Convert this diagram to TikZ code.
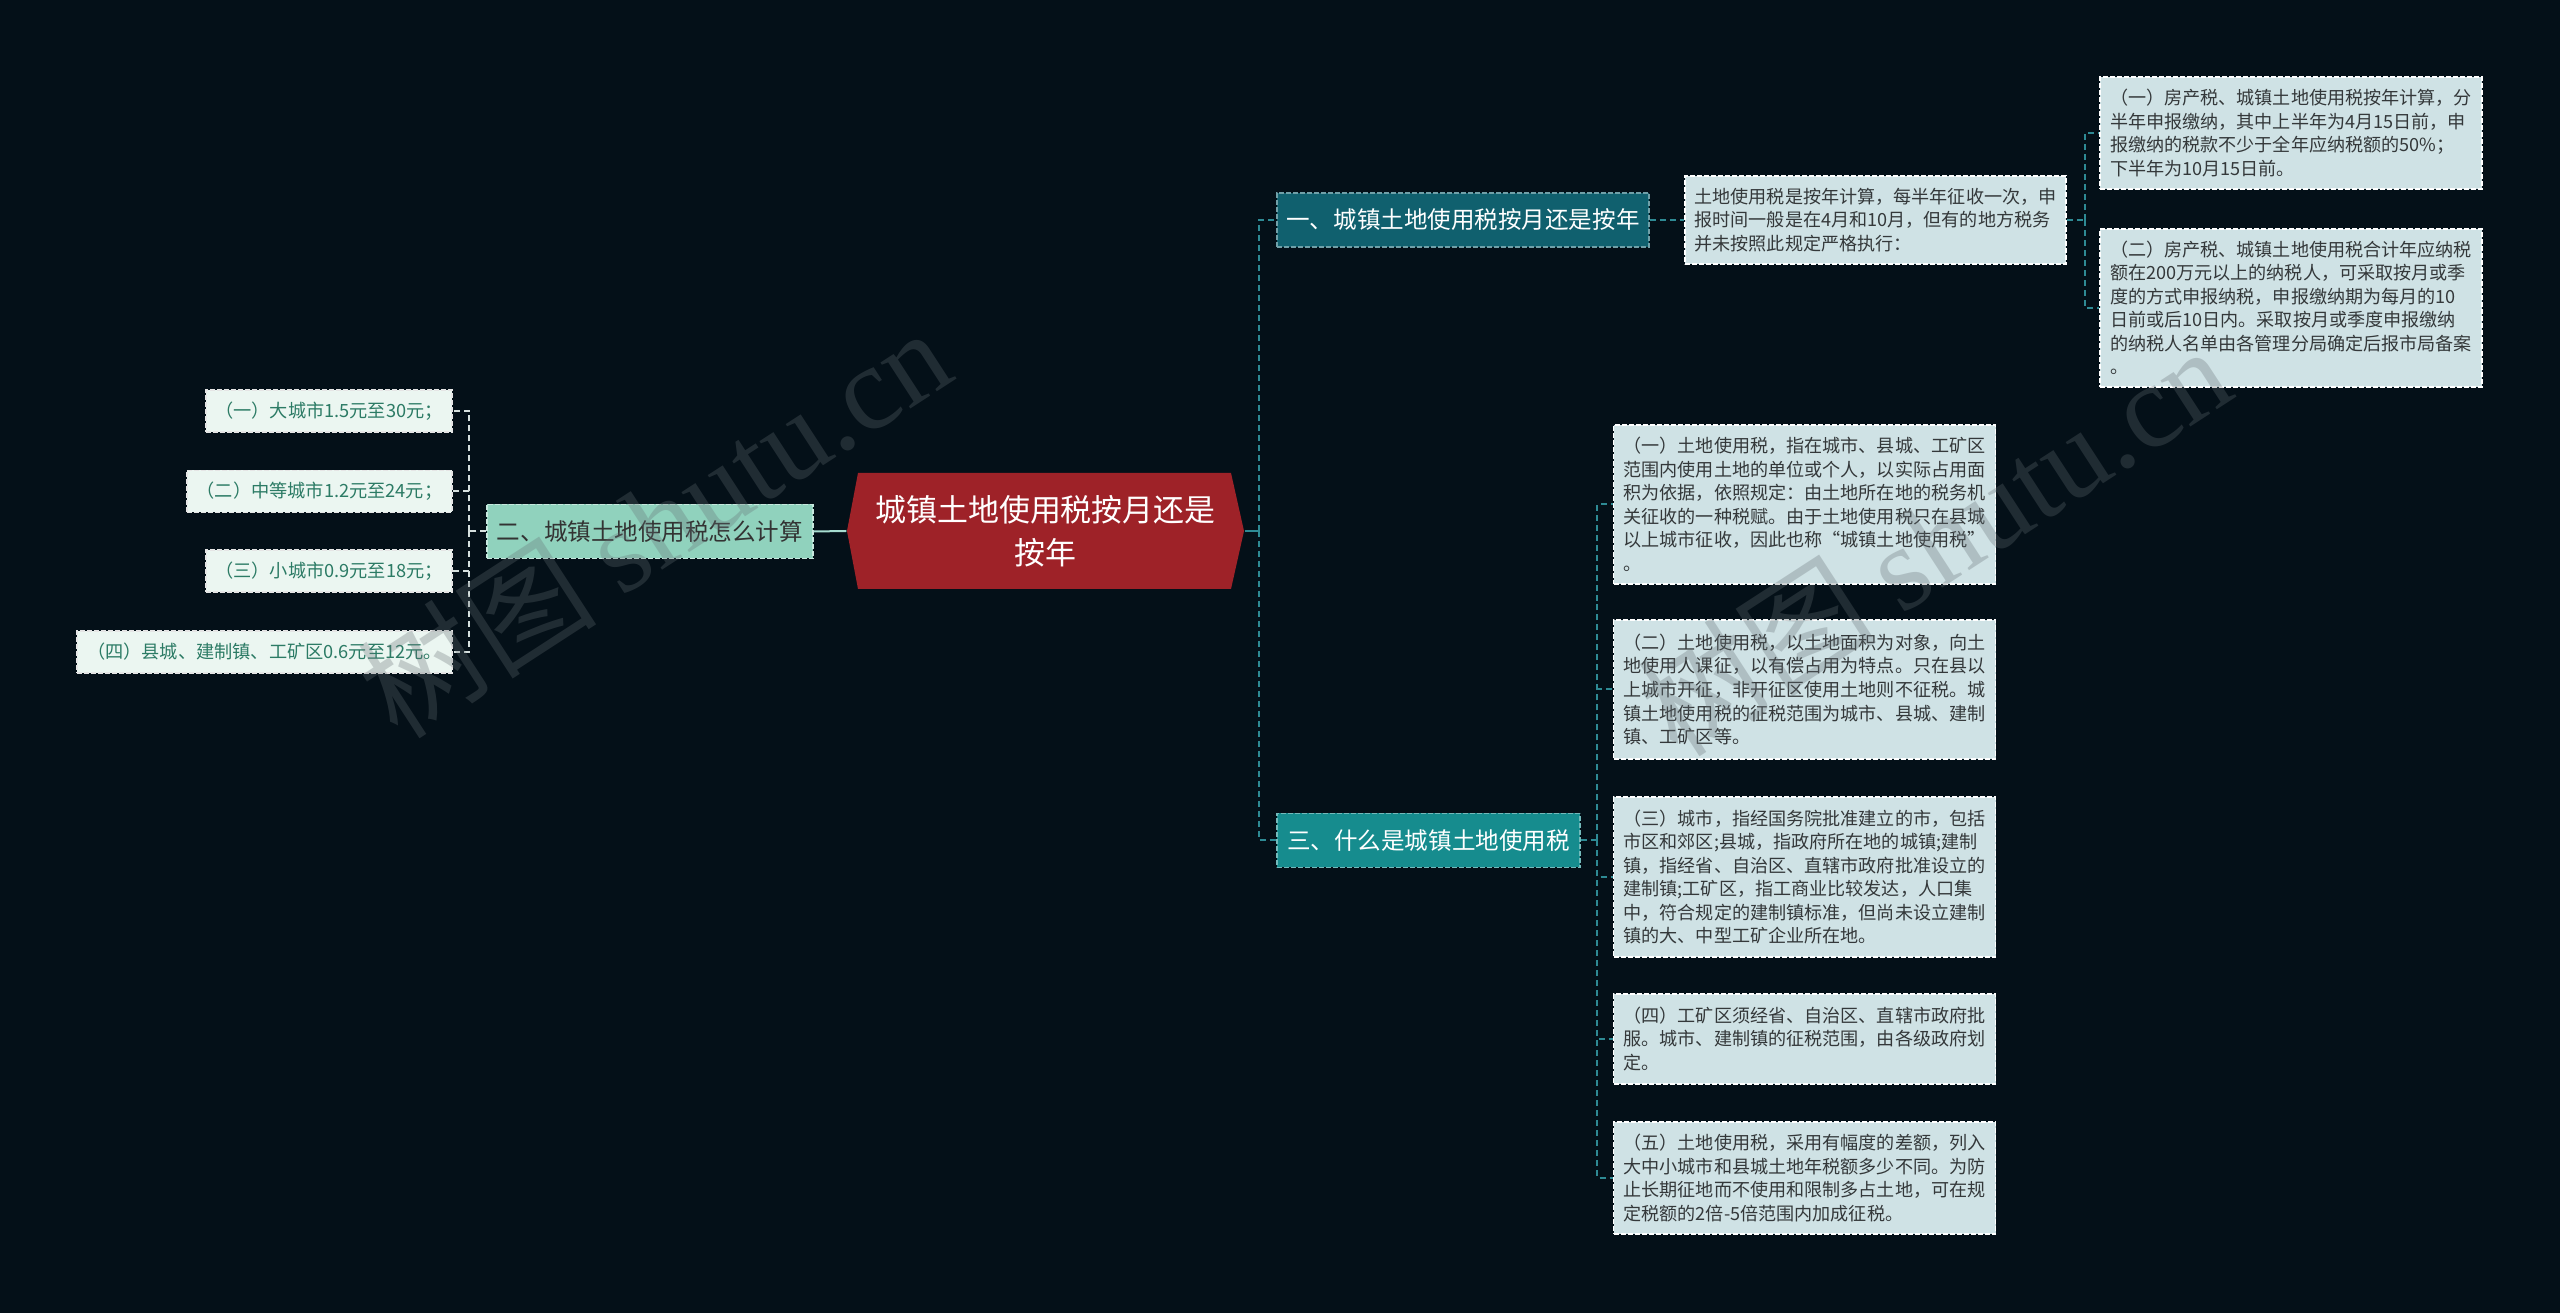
\documentclass[tikz,border=0pt]{standalone}
\usepackage{fontspec}
\setmainfont{Noto Sans CJK SC}
\newfontfamily\wmlatin{Liberation Serif}
\usepackage{tikz}
\usetikzlibrary{calc}
\usepackage{xcolor}

\definecolor{bgcol}{RGB}{4,16,24}
\definecolor{rootred}{RGB}{158,34,40}
\definecolor{onecol}{RGB}{16,96,110}
\definecolor{twocol}{RGB}{144,210,189}
\definecolor{threecol}{RGB}{22,140,142}
\definecolor{notecol}{RGB}{207,226,229}
\definecolor{leafcol}{RGB}{235,246,241}
\definecolor{leaftext}{RGB}{44,123,101}
\definecolor{notetext}{RGB}{52,56,58}
\definecolor{rcol}{RGB}{46,138,148}
\definecolor{lcol}{RGB}{214,224,222}
\definecolor{mintline}{RGB}{166,221,208}
\definecolor{wmcol}{RGB}{100,110,115}

\begin{document}
\begin{tikzpicture}[x=0.1mm, y=-0.1mm,
  root/.style={text=white, align=center, inner sep=0, minimum width=39.7mm,
    minimum height=11.6mm, font=\fontsize{8.8pt}{12.2pt}\selectfont},
  topic/.style={dash pattern=on 0.5mm off 0.2mm, line width=0.15mm, inner sep=0,
    minimum height=5.4mm, font=\fontsize{6.7pt}{8pt}\selectfont},
  note/.style={fill=notecol, draw=white, dash pattern=on 0.5mm off 0.2mm,
    line width=0.15mm, text=notetext, align=left, inner sep=0,
    minimum width=38.2mm, font=\fontsize{5.15pt}{6.69pt}\selectfont},
  leaf/.style={fill=leafcol, draw=white!80!gray, dash pattern=on 0.5mm off 0.2mm,
    line width=0.15mm, text=leaftext, inner sep=0, minimum height=4.2mm,
    font=\fontsize{5.18pt}{6.7pt}\selectfont},
  rline/.style={draw=rcol, line width=0.2mm, dash pattern=on 0.6mm off 0.4mm},
  lline/.style={draw=lcol, line width=0.2mm, dash pattern=on 0.6mm off 0.4mm},
  wmark/.style={text=wmcol, opacity=0.3, inner sep=0, font=\fontsize{34pt}{34pt}\selectfont}
]
\fill[bgcol] (0,0) rectangle (2560,1313);

\fill[rootred] (847,531) -- (858,473) -- (1231,473) -- (1244,531) -- (1231,589) -- (858,589) -- cycle;
\node[root] (root) at (1045.5,531) {城镇土地使用税按月还是\\按年};

\node[topic, fill=onecol, draw=onecol!60!white, text=white, minimum width=37.2mm] (b1) at (1463,220) {一、城镇土地使用税按月还是按年};
\node[topic, fill=twocol, draw=twocol!50!white, text=black!80, minimum width=32.6mm] (b2) at (650,531.5) {二、城镇土地使用税怎么计算};
\node[topic, fill=threecol, draw=threecol!60!white, text=white, minimum width=30.3mm] (b3) at (1428.5,840.5) {三、什么是城镇土地使用税};

\node[note, minimum width=38.1mm, minimum height=8.8mm] (t1) at (1875.5,220) {土地使用税是按年计算，每半年征收一次，申\\报时间一般是在4月和10月，但有的地方税务\\并未按照此规定严格执行：};
\node[note, minimum height=11.2mm] (s1) at (2291,133) {（一）房产税、城镇土地使用税按年计算，分\\半年申报缴纳，其中上半年为4月15日前，申\\报缴纳的税款不少于全年应纳税额的50\%；\\下半年为10月15日前。};
\node[note, minimum height=15.8mm] (s2) at (2291,308) {（二）房产税、城镇土地使用税合计年应纳税\\额在200万元以上的纳税人，可采取按月或季\\度的方式申报纳税，申报缴纳期为每月的10\\日前或后10日内。采取按月或季度申报缴纳\\的纳税人名单由各管理分局确定后报市局备案\\。};

\node[note, minimum height=15.9mm] (r1) at (1804.5,504.5) {（一）土地使用税，指在城市、县城、工矿区\\范围内使用土地的单位或个人，以实际占用面\\积为依据，依照规定：由土地所在地的税务机\\关征收的一种税赋。由于土地使用税只在县城\\以上城市征收，因此也称“城镇土地使用税”\\。};
\node[note, minimum height=13.9mm] (r2) at (1804.5,689.5) {（二）土地使用税，以土地面积为对象，向土\\地使用人课征，以有偿占用为特点。只在县以\\上城市开征，非开征区使用土地则不征税。城\\镇土地使用税的征税范围为城市、县城、建制\\镇、工矿区等。};
\node[note, minimum height=16mm] (r3) at (1804.5,877) {（三）城市，指经国务院批准建立的市，包括\\市区和郊区;县城，指政府所在地的城镇;建制\\镇，指经省、自治区、直辖市政府批准设立的\\建制镇;工矿区，指工商业比较发达，人口集\\中，符合规定的建制镇标准，但尚未设立建制\\镇的大、中型工矿企业所在地。};
\node[note, minimum height=9mm] (r4) at (1804.5,1039) {（四）工矿区须经省、自治区、直辖市政府批\\服。城市、建制镇的征税范围，由各级政府划\\定。};
\node[note, minimum height=11.2mm] (r5) at (1804.5,1178) {（五）土地使用税，采用有幅度的差额，列入\\大中小城市和县城土地年税额多少不同。为防\\止长期征地而不使用和限制多占土地，可在规\\定税额的2倍-5倍范围内加成征税。};

\node[leaf, minimum width=24.6mm] (l1) at (329,411) {（一）大城市1.5元至30元；};
\node[leaf, minimum width=26.5mm] (l2) at (319.5,491.5) {（二）中等城市1.2元至24元；};
\node[leaf, minimum width=24.6mm] (l3) at (329,571) {（三）小城市0.9元至18元；};
\node[leaf, minimum width=37.5mm] (l4) at (264.5,652) {（四）县城、建制镇、工矿区0.6元至12元。};

\coordinate (rj) at (1259,531);
\coordinate (tj) at (2085,220);
\coordinate (bj) at (1597,840.5);
\coordinate (lj) at (469,531.5);

\draw[draw=rcol, line width=0.2mm] (root.east) -- (rj);
\draw[rline] (rj) |- (b1.west);
\draw[rline] (rj) |- (b3.west);
\draw[rline] (b1.east) -- (t1.west);
\draw[rline] (t1.east) -- (tj);
\draw[rline] (tj) |- (s1.west);
\draw[rline] (tj) |- (s2.west);
\draw[rline] (b3.east) -- (bj);
\foreach \n in {r1,r2,r3,r4,r5}
  \draw[rline] (bj) |- (\n.west);

\draw[draw=mintline, line width=0.2mm] (root.west) -- (b2.east);
\draw[lline] (b2.west) -- (lj);
\foreach \n in {l1,l2,l3,l4}
  \draw[lline] (lj) |- (\n.east);

\node[wmark, rotate=33] (wm1) at (654,522) {树图 {\wmlatin shutu.cn}};
\node[wmark, rotate=33] (wm2) at (1934,540) {树图 {\wmlatin shutu.cn}};
\end{tikzpicture}
\end{document}
